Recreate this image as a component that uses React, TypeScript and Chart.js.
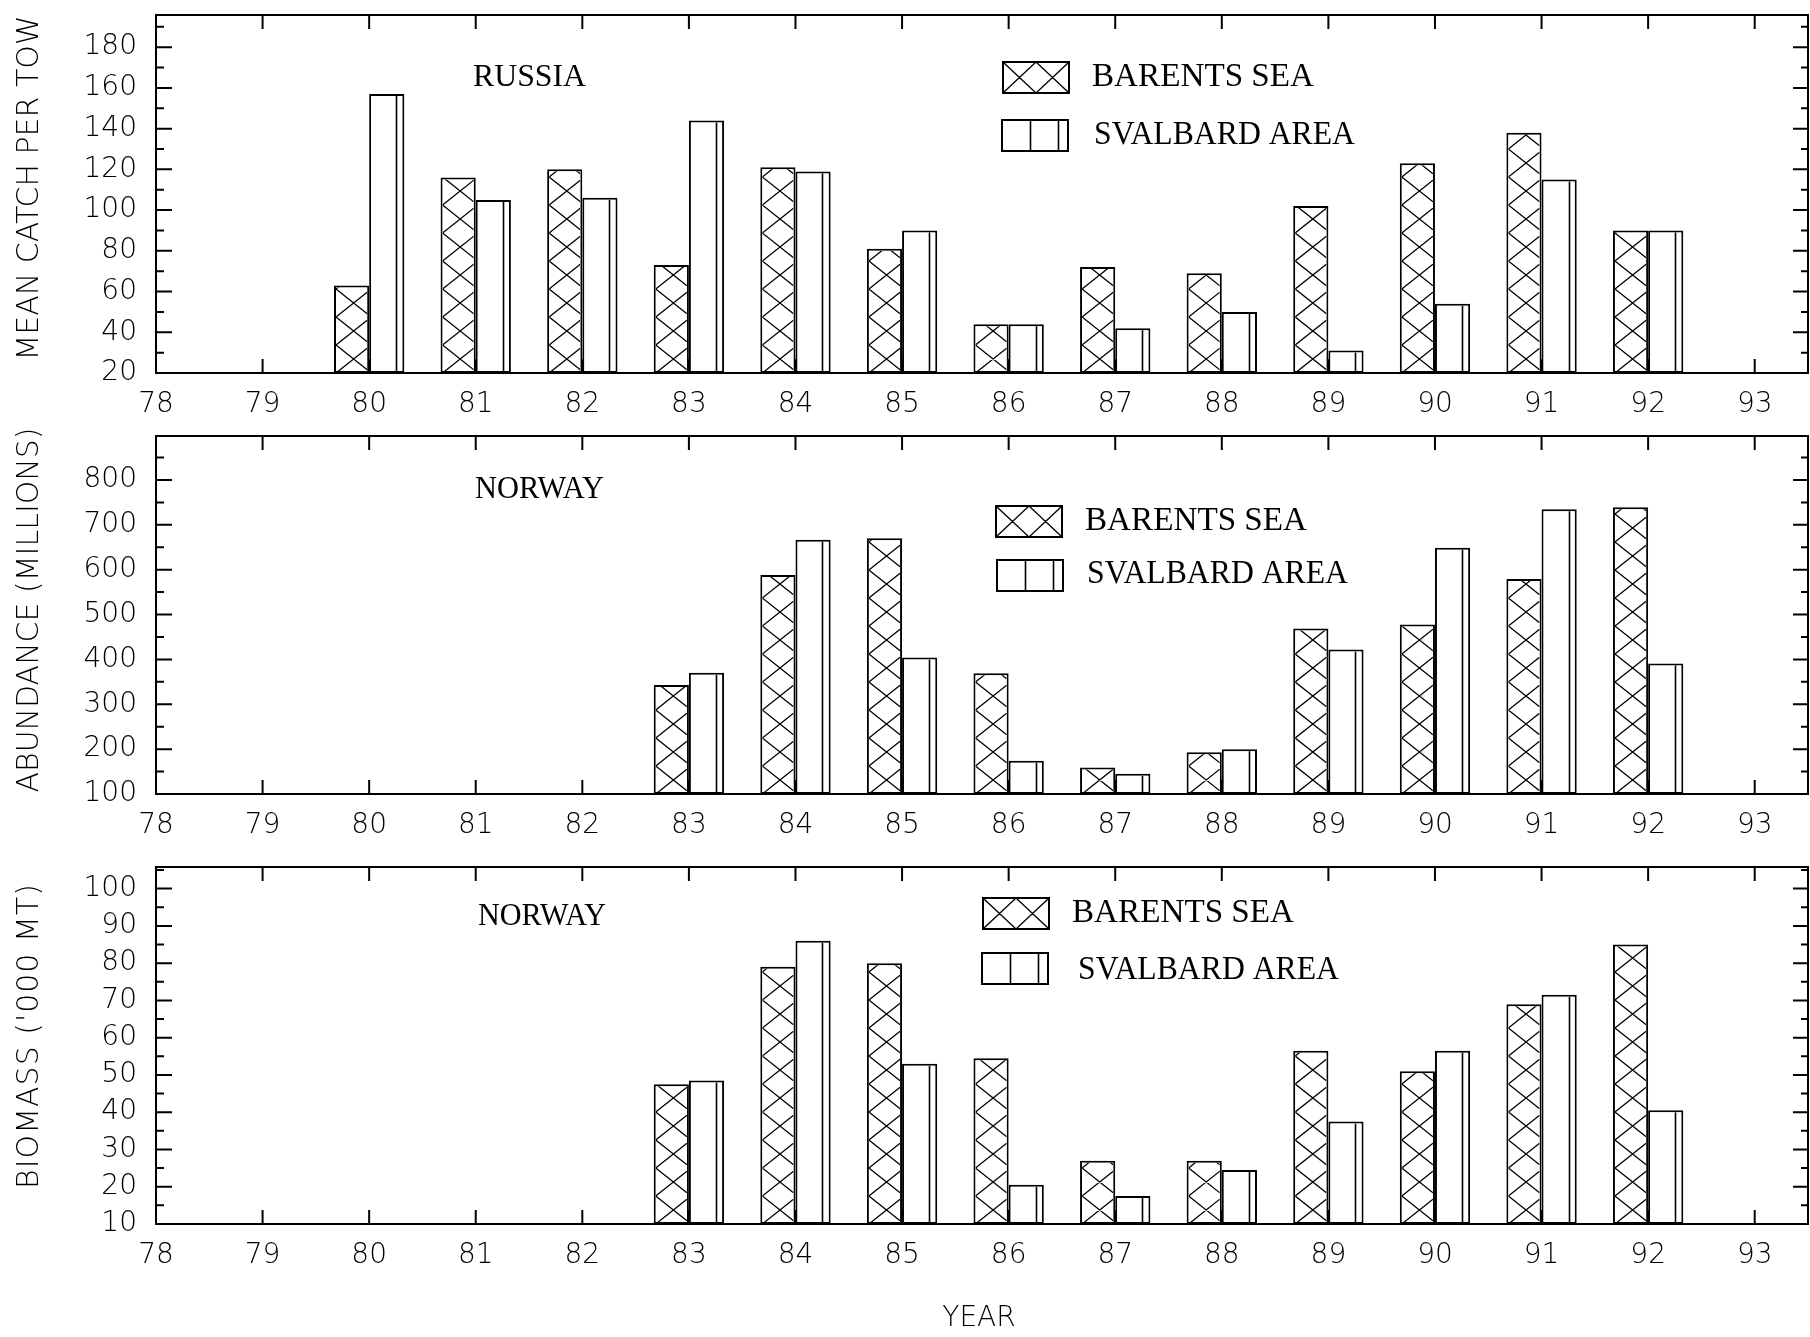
import React, { useEffect, useRef } from 'react';
import { Chart, registerables } from 'chart.js';

Chart.register(...registerables);

// ---------- data ----------
const russiaYears = [80, 81, 82, 83, 84, 85, 86, 87, 88, 89, 90, 91, 92];
const russiaBarents = [63, 116, 120, 73, 121, 81, 44, 72, 69, 102, 123, 138, 90];
const russiaSvalbard = [157, 105, 106, 144, 119, 90, 44, 42, 50, 31, 54, 115, 90];

const norwayYears = [83, 84, 85, 86, 87, 88, 89, 90, 91, 92];
const abundanceBarents = [343, 588, 670, 369, 159, 193, 469, 478, 579, 739];
const abundanceSvalbard = [370, 667, 404, 174, 145, 200, 422, 649, 735, 391];
const biomassBarents = [47.5, 79, 80, 54.5, 27, 27, 56.5, 51, 69, 85];
const biomassSvalbard = [48.5, 86, 53, 20.5, 17.5, 24.5, 37.5, 56.5, 71.5, 40.5];

const xTickYears = [78, 79, 80, 81, 82, 83, 84, 85, 86, 87, 88, 89, 90, 91, 92, 93];
const catchTicks = [20, 40, 60, 80, 100, 120, 140, 160, 180];
const abundanceTicks = [100, 200, 300, 400, 500, 600, 700, 800];
const biomassTicks = [10, 20, 30, 40, 50, 60, 70, 80, 90, 100];

const seriesNames = ['BARENTS SEA', 'SVALBARD AREA'];
const yAxisTitles = ['MEAN CATCH PER TOW', 'ABUNDANCE (MILLIONS)', "BIOMASS ('000 MT)"];
const panelTitles = ['RUSSIA', 'NORWAY', 'NORWAY'];
const xAxisTitle = 'YEAR';

// ---------- layout ----------
const W = 1810;
const PLOT_LEFT = 156;
const PLOT_RIGHT = 1808;

type PanelCfg = {
  canvasTop: number;
  canvasHeight: number;
  areaTop: number;
  areaBottom: number;
  yMin: number;
  yMax: number;
  majors: number[];
  years: number[];
  barents: number[];
  svalbard: number[];
  yTitle: string;
  yTitleY: number;
  yTitleSpacing: number;
  title: string;
  titleX: number;
  titleY: number;
  titleW: number;
  legend: { bx1: number; by1: number; tx1: number; ty1: number; bx2: number; by2: number; tx2: number; ty2: number };
  xTitle?: string;
};

const panels: PanelCfg[] = [
  {
    canvasTop: 0, canvasHeight: 425, areaTop: 15, areaBottom: 373,
    yMin: 20, yMax: 195.8, majors: catchTicks,
    years: russiaYears, barents: russiaBarents, svalbard: russiaSvalbard,
    yTitle: yAxisTitles[0], yTitleY: 188, yTitleSpacing: 0,
    title: panelTitles[0], titleX: 473, titleY: 78, titleW: 113,
    legend: { bx1: 1003, by1: 62, tx1: 1092, ty1: 77, bx2: 1002, by2: 120, tx2: 1094, ty2: 135 },
  },
  {
    canvasTop: 425, canvasHeight: 425, areaTop: 436, areaBottom: 794,
    yMin: 100, yMax: 898, majors: abundanceTicks,
    years: norwayYears, barents: abundanceBarents, svalbard: abundanceSvalbard,
    yTitle: yAxisTitles[1], yTitleY: 610, yTitleSpacing: 0,
    title: panelTitles[1], titleX: 475, titleY: 490, titleW: 129,
    legend: { bx1: 996, by1: 506, tx1: 1085, ty1: 521, bx2: 997, by2: 560, tx2: 1087, ty2: 574 },
  },
  {
    canvasTop: 850, canvasHeight: 487, areaTop: 867, areaBottom: 1224,
    yMin: 10, yMax: 105.8, majors: biomassTicks,
    years: norwayYears, barents: biomassBarents, svalbard: biomassSvalbard,
    yTitle: yAxisTitles[2], yTitleY: 1036, yTitleSpacing: 1,
    title: panelTitles[2], titleX: 478, titleY: 917, titleW: 128,
    legend: { bx1: 983, by1: 898, tx1: 1072, ty1: 913, bx2: 982, by2: 953, tx2: 1078, ty2: 970 },
    xTitle: xAxisTitle,
  },
];

const TICK_FONT = '"DejaVu Sans"';
const SERIF = '"Liberation Serif", "Times New Roman", serif';
const LEGEND_W = [222, 261];

// ---------- pattern helpers ----------
function drawCrossHatch(ctx: CanvasRenderingContext2D, left: number, top: number, right: number, bottom: number, cellW: number, cellH: number) {
  if (right - left <= 0 || bottom - top <= 0) return;
  ctx.save();
  ctx.beginPath();
  ctx.rect(left, top, right - left, bottom - top);
  ctx.clip();
  ctx.beginPath();
  const span = right - left;
  const rise = (span * cellH) / cellW;
  const n = Math.ceil((bottom - top + rise) / cellH) + 2;
  for (let k = -n; k <= n; k++) {
    const y0 = bottom - k * cellH;
    ctx.moveTo(left, y0);
    ctx.lineTo(right, y0 - rise);
    ctx.moveTo(left, y0);
    ctx.lineTo(right, y0 + rise);
  }
  ctx.lineWidth = 1.3;
  ctx.strokeStyle = '#000';
  ctx.stroke();
  ctx.restore();
}

function drawVLines(ctx: CanvasRenderingContext2D, left: number, top: number, right: number, bottom: number, period: number) {
  ctx.save();
  ctx.beginPath();
  for (let x = left + period; x < right - 3; x += period) {
    ctx.moveTo(Math.round(x) + 0.5, top);
    ctx.lineTo(Math.round(x) + 0.5, bottom);
  }
  ctx.lineWidth = 1.6;
  ctx.strokeStyle = '#000';
  ctx.stroke();
  ctx.restore();
}

function makePlugin(cfg: PanelCfg) {
  const off = cfg.canvasTop;
  return {
    id: 'paperDecor',
    beforeDatasetsDraw(chart: any) {
      const ctx: CanvasRenderingContext2D = chart.ctx;
      const { left, right, top, bottom } = chart.chartArea;
      const xs = chart.scales.x;
      const ys = chart.scales.y;
      ctx.save();
      ctx.strokeStyle = '#000';
      ctx.lineWidth = 2;
      ctx.beginPath();
      xs.ticks.forEach((t: any) => {
        const px = xs.getPixelForValue(t.value);
        if (px <= left + 1 || px >= right - 1) return;
        ctx.moveTo(px, top);
        ctx.lineTo(px, top + 14);
        ctx.moveTo(px, bottom);
        ctx.lineTo(px, bottom - 14);
      });
      ys.ticks.forEach((t: any) => {
        const py = ys.getPixelForValue(t.value);
        const major = cfg.majors.includes(t.value);
        ctx.moveTo(left, py);
        ctx.lineTo(left + (major ? 16 : 8), py);
        ctx.moveTo(right, py);
        ctx.lineTo(right - (major ? 15 : 7), py);
      });
      ctx.stroke();
      ctx.restore();
    },
    afterDatasetsDraw(chart: any) {
      const ctx: CanvasRenderingContext2D = chart.ctx;
      const { left, right, top, bottom } = chart.chartArea;
      const bw = 2;
      // bar patterns
      const m0 = chart.getDatasetMeta(0);
      m0.data.forEach((el: any) => {
        const p = el.getProps(['x', 'y', 'base', 'width'], true);
        const l = p.x - p.width / 2;
        const r = p.x + p.width / 2;
        const t = Math.min(p.y, p.base);
        const b = Math.max(p.y, p.base);
        drawCrossHatch(ctx, l + bw, t + bw, r - bw, b, r - l, 28);
      });
      const m1 = chart.getDatasetMeta(1);
      m1.data.forEach((el: any) => {
        const p = el.getProps(['x', 'y', 'base', 'width'], true);
        const l = p.x - p.width / 2;
        const r = p.x + p.width / 2;
        const t = Math.min(p.y, p.base);
        const b = Math.max(p.y, p.base);
        drawVLines(ctx, l, t + bw, r, b, 27);
      });

      ctx.save();
      // frame
      ctx.strokeStyle = '#000';
      ctx.lineWidth = 2;
      ctx.strokeRect(left, top, right - left, bottom - top);

      // legend
      const lg = cfg.legend;
      const boxW = 66;
      const boxH = 31;
      ctx.fillStyle = '#fff';
      ctx.fillRect(lg.bx1, lg.by1 - off, boxW, boxH);
      drawCrossHatch(ctx, lg.bx1, lg.by1 - off, lg.bx1 + boxW, lg.by1 - off + boxH, boxW / 2, boxH);
      ctx.lineWidth = 2;
      ctx.strokeRect(lg.bx1, lg.by1 - off, boxW, boxH);
      ctx.fillRect(lg.bx2, lg.by2 - off, boxW, boxH);
      drawVLines(ctx, lg.bx2, lg.by2 - off, lg.bx2 + boxW, lg.by2 - off + boxH, 28);
      ctx.lineWidth = 2;
      ctx.strokeRect(lg.bx2, lg.by2 - off, boxW, boxH);

      ctx.fillStyle = '#000';
      ctx.textBaseline = 'middle';
      ctx.textAlign = 'left';
      ctx.font = `34px ${SERIF}`;
      ctx.fillText(seriesNames[0], lg.tx1, lg.ty1 - off, LEGEND_W[0]);
      ctx.fillText(seriesNames[1], lg.tx2, lg.ty2 - off, LEGEND_W[1]);

      // panel title
      ctx.font = `32px ${SERIF}`;
      ctx.fillText(cfg.title, cfg.titleX, cfg.titleY - off, cfg.titleW);

      // y axis title
      ctx.save();
      ctx.translate(30, cfg.yTitleY - off);
      ctx.rotate(-Math.PI / 2);
      ctx.font = `200 30px ${TICK_FONT}`;
      (ctx as any).letterSpacing = `${cfg.yTitleSpacing}px`;
      ctx.textAlign = 'center';
      ctx.fillText(cfg.yTitle, 0, 0);
      ctx.restore();

      // x axis title
      if (cfg.xTitle) {
        ctx.font = `200 28px ${TICK_FONT}`;
        ctx.textAlign = 'center';
        ctx.fillText(cfg.xTitle, (left + right) / 2 - 3, 1319 - off);
      }
      ctx.restore();
    },
  };
}

function Panel({ cfg }: { cfg: PanelCfg }) {
  const ref = useRef<HTMLCanvasElement>(null);
  useEffect(() => {
    const canvas = ref.current;
    if (!canvas) return;
    const step = cfg.majors[1] - cfg.majors[0];
    const allTicks: number[] = [];
    cfg.majors.forEach((v) => {
      allTicks.push(v);
      if (v + step / 2 < cfg.yMax - 0.5) allTicks.push(v + step / 2);
    });
    const xAxisHeight = cfg.canvasHeight - (cfg.areaBottom - cfg.canvasTop);
    const chart = new Chart(canvas, {
      type: 'bar',
      data: {
        datasets: [
          {
            label: seriesNames[0],
            data: cfg.years.map((x, i) => ({ x, y: cfg.barents[i] })),
            backgroundColor: '#fff',
            borderColor: '#000',
            borderWidth: 2,
            borderSkipped: false,
            base: cfg.yMin,
            categoryPercentage: 0.66,
            barPercentage: 1,
          } as any,
          {
            label: seriesNames[1],
            data: cfg.years.map((x, i) => ({ x, y: cfg.svalbard[i] })),
            backgroundColor: '#fff',
            borderColor: '#000',
            borderWidth: 2,
            borderSkipped: false,
            base: cfg.yMin,
            categoryPercentage: 0.66,
            barPercentage: 1,
          } as any,
        ],
      },
      options: {
        animation: false,
        responsive: false,
        maintainAspectRatio: false,
        events: [],
        layout: { padding: { left: 0, right: W - PLOT_RIGHT, top: cfg.areaTop - cfg.canvasTop, bottom: 0 } },
        plugins: { legend: { display: false }, tooltip: { enabled: false }, title: { display: false } },
        scales: {
          x: {
            type: 'linear',
            min: 78,
            max: 93.5,
            offset: false,
            grid: { display: false, drawTicks: false, offset: false },
            border: { display: false },
            afterBuildTicks: (s: any) => {
              s.ticks = xTickYears.map((v) => ({ value: v }));
            },
            afterFit: (s: any) => {
              s.height = xAxisHeight;
              s.paddingLeft = 0;
              s.paddingRight = 0;
            },
            ticks: {
              autoSkip: false,
              maxRotation: 0,
              minRotation: 0,
              padding: 15,
              color: '#000',
              font: { family: TICK_FONT, size: 28, weight: '200' },
              callback: (v: any) => String(v),
            },
          },
          y: {
            type: 'linear',
            min: cfg.yMin,
            max: cfg.yMax,
            grid: { display: false, drawTicks: false },
            border: { display: false },
            afterBuildTicks: (s: any) => {
              s.ticks = allTicks.map((v) => ({ value: v }));
            },
            afterFit: (s: any) => {
              s.width = PLOT_LEFT;
              s.paddingTop = 0;
              s.paddingBottom = 0;
            },
            ticks: {
              autoSkip: false,
              padding: 19,
              color: '#000',
              font: { family: TICK_FONT, size: 28, weight: '200' },
              callback: (v: any) => (cfg.majors.includes(v) ? String(v) : ''),
            },
          },
        },
      } as any,
      plugins: [makePlugin(cfg)],
    });
    return () => chart.destroy();
  }, [cfg]);
  return (
    <canvas
      ref={ref}
      width={W}
      height={cfg.canvasHeight}
      style={{ position: 'absolute', left: 0, top: cfg.canvasTop, width: W, height: cfg.canvasHeight, display: 'block' }}
    />
  );
}

export default function App() {
  return (
    <div style={{ position: 'absolute', left: 0, top: 0, width: W, height: 1337, background: '#fff', overflow: 'hidden' }}>
      {panels.map((p, i) => (
        <Panel key={i} cfg={p} />
      ))}
    </div>
  );
}
